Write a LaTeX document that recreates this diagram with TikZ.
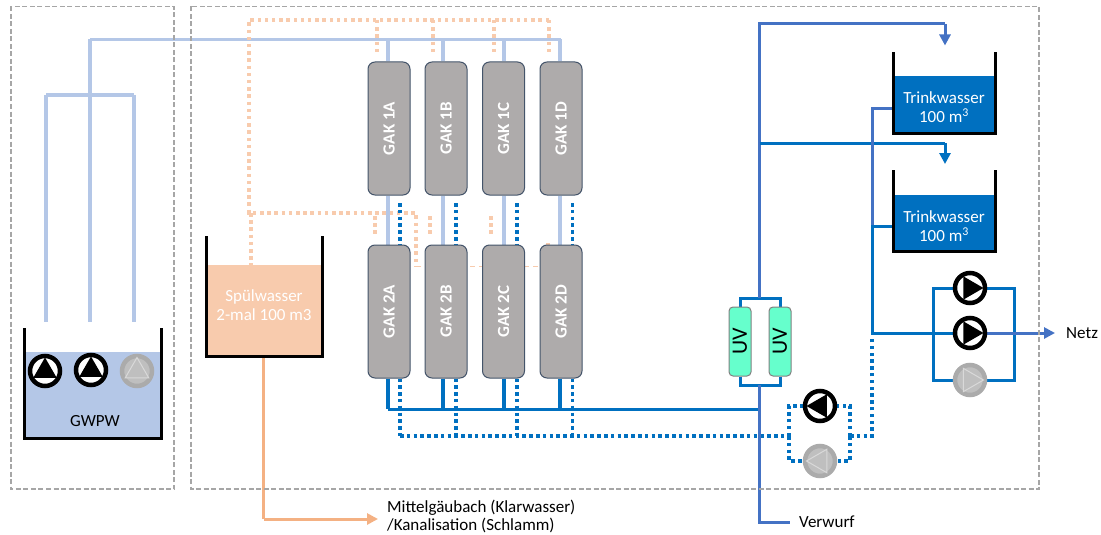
\documentclass[tikz,border=0pt]{standalone}
\usepackage{fontspec}
\setmainfont{Carlito}
\usetikzlibrary{arrows.meta, positioning}
\usetikzlibrary{shapes.geometric}
\usetikzlibrary{backgrounds}
\usetikzlibrary{calc}
\definecolor{lightpipe}{HTML}{B4C7E7}
\definecolor{cleanpipe}{HTML}{0070C0}
\definecolor{mainpipe}{HTML}{4472C4}
\definecolor{rinsefill}{HTML}{F8CBAD}
\definecolor{rinsepipe}{HTML}{F4B183}
\definecolor{uvfill}{HTML}{66FFCC}
\definecolor{gakfill}{HTML}{AEABAB}
\definecolor{gakline}{HTML}{44546A}
\tikzset{
	frame/.style = {draw=black!35, line width=1.3pt, dash pattern=on 5pt off 2.5pt},
	wall/.style = {draw=black, line width=3pt},
	water/.style = {inner sep=0pt, outer sep=0pt, draw=none},
	lbl/.style = {inner sep=0pt, align=center, font=\fontsize{17}{19}\selectfont},
	gak/.style = {draw=gakline, line width=1pt, fill=gakfill, rounded corners=7pt, minimum width=42pt, minimum height=133pt, inner sep=0pt, text=white, font=\fontsize{17}{18}\selectfont\bfseries},
	uv/.style = {draw=black!50, line width=1pt, fill=uvfill, rounded corners=4pt, minimum width=22pt, minimum height=69pt, inner sep=0pt, font=\fontsize{22}{24}\selectfont},
	feed/.style = {draw=lightpipe, line width=3.5pt},
	clean/.style = {draw=cleanpipe, line width=3pt},
	main/.style = {draw=mainpipe, line width=3pt},
	cleandot/.style = {draw=cleanpipe, line width=3.5pt, dash pattern=on 3.5pt off 3.3pt},
	rinsedot/.style = {draw=rinsefill, line width=3.5pt, dash pattern=on 3.5pt off 3.7pt},
	slurry/.style = {draw=rinsepipe, line width=3pt},
	tip/.style = {-{Triangle[length=11pt,width=11pt]}},
	pumpon/.style = {circle, draw=black, line width=4.5pt, fill=white, minimum size=30pt, inner sep=0pt},
	pumponT/.style = {regular polygon, regular polygon sides=3, fill=black, minimum size=27pt, inner sep=0pt},
	pumpoff/.style = {circle, draw=black!33, line width=4.5pt, fill=black!25, minimum size=30pt, inner sep=0pt},
	pumpoffT/.style = {regular polygon, regular polygon sides=3, draw=black!15, line width=1pt, minimum size=27pt, inner sep=0pt},
}
% pump: name, position, rotation, on/off
\newcommand{\pumpnode}[4]{
	\node (#1) [pump#4] at (#2) {};
	\node (#1T) [pump#4T, shape border rotate=#3] at (#2) {};
}
% tank walls around a water node: name, height above the water
\newcommand{\tankwalls}[2]{
	\draw [wall] ($(#1.north west)+(-1.5,-#2)$) -- ($(#1.south west)+(-1.5,1.5)$) -- ($(#1.south east)+(1.5,1.5)$) -- ($(#1.north east)+(1.5,-#2)$);
}
\begin{document}
\begin{tikzpicture}[x=1pt, y=-1pt]
	\useasboundingbox (0,0) rectangle (1101,535);
	\draw [frame] (11,6.5) rectangle (174,489);
	\draw [frame] (191,6.5) rectangle (1039,489);

	% tanks
	\node (gwpw) [water, fill=lightpipe, minimum width=134pt, minimum height=85pt] at (93,394.5) {};
	\node (gwpwtxt) [lbl] at (95,421) {GWPW};
	\node (spuel) [water, fill=rinsefill, minimum width=113pt, minimum height=90pt] at (264.5,310) {};
	\node (spueltxt) [lbl, text=white] at (264,305) {Spülwasser\\2-mal 100 m3};
	\node (tw1) [water, fill=cleanpipe, minimum width=99pt, minimum height=55pt] at (944.5,104) {};
	\node (tw1txt) [lbl, text=white] at (944,107.5) {Trinkwasser\\100 m\textsuperscript{3}};
	\node (tw2) [water, fill=cleanpipe, minimum width=99pt, minimum height=55pt] at (944.5,222.5) {};
	\node (tw2txt) [lbl, text=white] at (944,226.5) {Trinkwasser\\100 m\textsuperscript{3}};
	\tankwalls{gwpw}{24}
	\tankwalls{spuel}{29}
	\tankwalls{tw1}{24}
	\tankwalls{tw2}{25}

	% filters
	\foreach \col/\cx in {A/389, B/446, C/503.5, D/561}{
		\node (gak1\col) [gak] at (\cx,128.5) {\rotatebox{90}{GAK 1\col}};
		\node (gak2\col) [gak] at (\cx,311.5) {\rotatebox{90}{GAK 2\col}};
	}
	\node (uv1) [uv] at (740,341.5) {\rotatebox{90}{UV}};
	\node (uv2) [uv] at (780,341.5) {\rotatebox{90}{UV}};

	% pumps
	\pumpnode{pg1}{45,371}{0}{on}
	\pumpnode{pg2}{91,370}{0}{on}
	\pumpnode{pg3}{137,371}{0}{off}
	\pumpnode{pn1}{970,288}{-90}{on}
	\pumpnode{pn2}{970,333}{-90}{on}
	\pumpnode{pn3}{970,380}{-90}{off}
	\pumpnode{pb1}{820,406}{90}{on}
	\pumpnode{pb2}{820,461}{90}{off}

	% outlets
	\node (netz) [lbl, anchor=west] at (1066,333) {Netz};
	\node (verwurf) [lbl, anchor=west] at (799,522) {Verwurf};
	\node (bach) [lbl, anchor=west] at (387,508) {Mittelgäubach (Klarwasser)};
	\node (kanal) [lbl, anchor=west] at (387,525.5) {/Kanalisation (Schlamm)};

	% junctions
	\coordinate (hdrW) at (90,39.5);
	\coordinate (hdrE) at (561,39.5);
	\coordinate (wellL) at (46,95);
	\coordinate (wellR) at (134,95);
	\coordinate (rinseNW) at (249,20);
	\coordinate (rinseNE) at (549,20);
	\coordinate (rinseSW) at (249,213);
	\coordinate (rinseSE) at (416,213);
	\coordinate (rinseTk) at (251,213);
	\coordinate (rinseEnd) at (416,266);
	\coordinate (rinseLow) at (540,266);
	\coordinate (drainW) at (388,409);
	\coordinate (drainE) at (759.5,409);
	\coordinate (backW) at (400,436);
	\coordinate (bypL) at (789,436);
	\coordinate (bypR) at (850,436);
	\coordinate (bypC) at (872,436);
	\coordinate (busN) at (872,108);
	\coordinate (busM) at (872,226);
	\coordinate (busS) at (872,333);
	\coordinate (netzL) at (933,333);
	\coordinate (netzR) at (1014,333);
	\coordinate (uvTopL) at (740,298);
	\coordinate (uvTopR) at (780,298);
	\coordinate (uvBotL) at (740,385);
	\coordinate (uvBotR) at (780,385);
	\coordinate (mainN) at (759.5,24);
	\coordinate (mainM) at (759.5,143);
	\coordinate (mainT) at (759.5,298);
	\coordinate (mainB) at (759.5,385);
	\coordinate (mainS) at (759.5,522);
	\coordinate (in1) at (945,24);
	\coordinate (in2) at (945,143);
	\coordinate (slurryC) at (263.5,519);

	\begin{scope}[on background layer]
		% raw water
		\draw [feed] (hdrW) -- (hdrE);
		\draw [feed] (hdrW) -- (90,322);
		\draw [feed] (wellL) -- (wellR);
		\draw [feed] (wellL) -- (46,322);
		\draw [feed] (wellR) -- (134,322);

		% rinse water
		\draw [rinsedot] (rinseNE) -- (rinseNW) -- (rinseSW) -- (rinseSE) -- (rinseEnd);
		\draw [rinsedot] (rinseTk) -- (spuel.north -| rinseTk);
		\draw [draw=rinsefill, line width=1pt, dash pattern=on 5pt off 4pt] (rinseEnd) -- (rinseLow);
		\draw [rinsedot] (548,243) -- (548,245);
		\foreach \col/\up/\low in {A/377/375, B/433/430, C/494/491}{
			\draw [rinsedot] (\up,20) -- (\up,52);
			\draw [rinsedot] (\low,216) -- (\low,236);
		}
		\draw [rinsedot] (549,20) -- (549,52);
		\draw [slurry] (spuel.south -| slurryC) -- (slurryC);
		\draw [slurry, tip] (slurryC) -- ($(bach.west |- slurryC)+(-9,0)$);

		% filters
		\foreach \col/\fx/\dx in {A/388/400, B/443/456, C/504/517, D/560/572.5}{
			\draw [feed] (\fx,39.5) -- (gak1\col.north -| \fx,0);
			\draw [feed] (gak1\col.south -| \fx,0) -- (gak2\col.north -| \fx,0);
			\draw [cleandot] (\dx,203) -- (gak2\col.north -| \dx,0);
			\draw [cleandot] (gak2\col.south -| \dx,0) -- (\dx,436);
			\draw [clean, line width=3.5pt] (gak2\col.south -| \fx,0) -- (\fx,409);
		}
		\draw [cleandot] (backW) -- (bypL);
		\draw [cleandot] (bypL) |- (pb1.west);
		\draw [cleandot] (bypL) |- (pb2.west);
		\draw [cleandot] (bypR) |- (pb1.east);
		\draw [cleandot] (bypR) |- (pb2.east);
		\draw [cleandot] (bypR) -- (bypC) -- (872,337);
		\draw [clean] (drainW) -- (drainE);

		% uv
		\draw [clean] (uv1.north) -- (uvTopL) -- (uvTopR) -- (uv2.north);
		\draw [clean] (uv1.south) -- (uvBotL) -- (uvBotR) -- (uv2.south);
		\draw [main] (mainT) -- (mainN) -- (in1);
		\draw [main, tip] (in1) -- ($(tw1.north -| in1)+(0,-31)$);
		\draw [clean] (mainM) -- (in2);
		\draw [clean, tip] (in2) -- ($(tw2.north -| in2)+(0,-31)$);
		\draw [main] (mainB) -- (mainS) -- ($(verwurf.west)+(-9,0)$);

		% net
		\draw [main] (tw1.west |- busN) -- (busN) -- (busM);
		\draw [clean] (tw2.west |- busM) -- (busM) -- (busS) -- (pn2.west);
		\draw [clean] (pn1.west) -| (netzL) |- (pn3.west);
		\draw [clean] (pn1.east) -| (netzR) |- (pn3.east);
		\draw [main, tip] (pn2.east) -- ($(netz.west)+(-11,0)$);
	\end{scope}
\end{tikzpicture}
\end{document}
